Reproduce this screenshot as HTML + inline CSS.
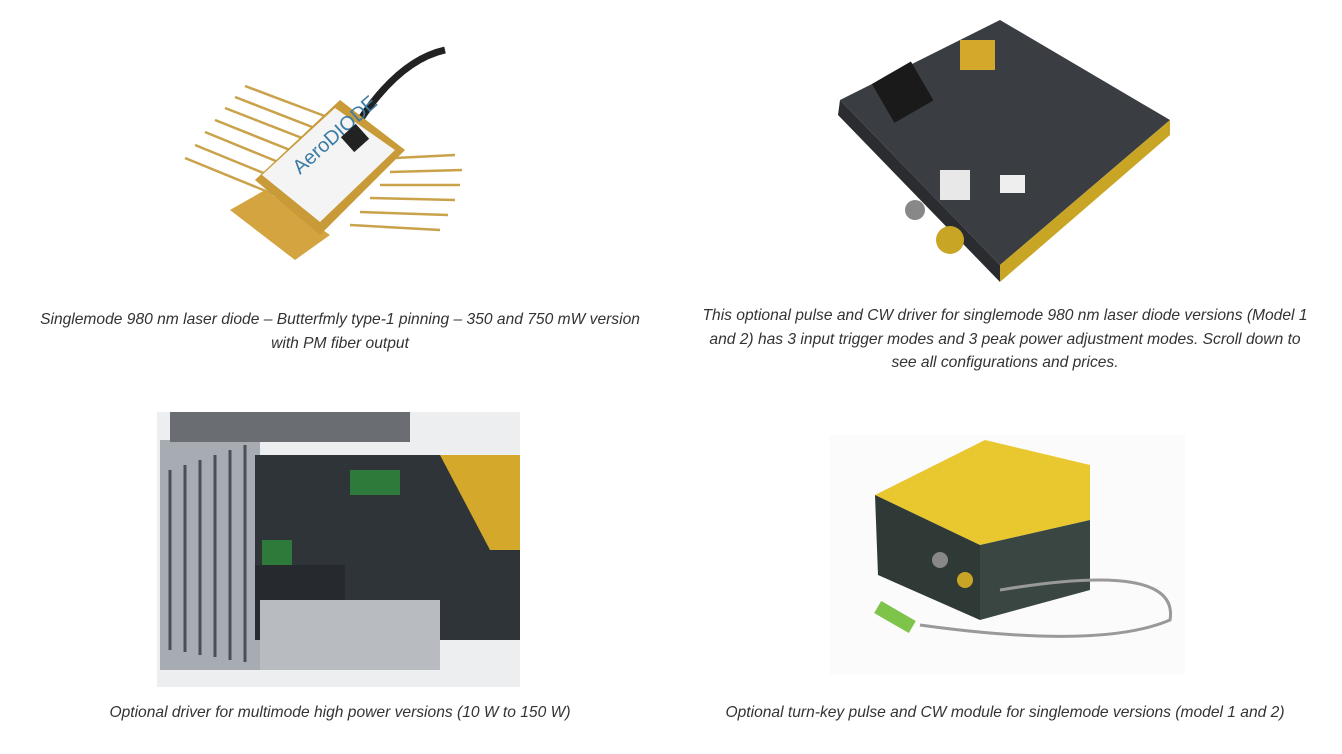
<!DOCTYPE html>
<html><head><meta charset="utf-8"><style>
html,body{margin:0;padding:0;background:#fff;width:1342px;height:754px;overflow:hidden;position:relative;font-family:"Liberation Sans",sans-serif}
.cap{position:absolute;font-style:italic;font-size:15.6px;color:#333;text-align:center;line-height:23.5px;white-space:nowrap}
svg{position:absolute;left:0;top:0}
</style></head><body>
<svg width="1342" height="754">
<path d="M360 120 Q400 60 445 50" stroke="#222" stroke-width="7" fill="none"/>
<g stroke="#c9a24a" stroke-width="2.5">
<line x1="185" y1="158" x2="300" y2="205"/><line x1="195" y1="145" x2="305" y2="190"/>
<line x1="205" y1="132" x2="310" y2="175"/><line x1="215" y1="120" x2="315" y2="160"/>
<line x1="225" y1="108" x2="320" y2="145"/><line x1="235" y1="97" x2="325" y2="132"/>
<line x1="245" y1="86" x2="330" y2="118"/>
<line x1="350" y1="225" x2="440" y2="230"/><line x1="360" y1="212" x2="448" y2="215"/>
<line x1="370" y1="198" x2="455" y2="200"/><line x1="380" y1="185" x2="460" y2="185"/>
<line x1="390" y1="172" x2="462" y2="170"/><line x1="395" y1="158" x2="455" y2="155"/>
</g>
<polygon points="230,210 295,260 330,235 265,190" fill="#d4a440"/>
<polygon points="255,180 320,235 405,150 340,100" fill="#c89a38"/>
<polygon points="262,175 320,222 395,150 335,108" fill="#f4f4f4"/>
<text x="300" y="175" font-size="20" fill="#3a7ca5" transform="rotate(-42 300 175)" font-family="Liberation Sans">AeroDIODE</text>
<rect x="345" y="128" width="20" height="20" fill="#222" transform="rotate(-42 355 138)"/>
<polygon points="840,100 1000,20 1170,120 1000,265" fill="#3a3d42"/>
<polygon points="840,100 1000,265 1000,282 838,115" fill="#2a2c30"/>
<polygon points="1000,265 1170,120 1170,135 1000,282" fill="#c9a526"/>
<rect x="880" y="70" width="45" height="45" fill="#1a1a1a" transform="rotate(-30 902 92)"/>
<rect x="960" y="40" width="35" height="30" fill="#d4a82a"/>
<rect x="940" y="170" width="30" height="30" fill="#e8e8e8"/>
<circle cx="950" cy="240" r="14" fill="#c9a526"/><circle cx="915" cy="210" r="10" fill="#888"/>
<rect x="1000" y="175" width="25" height="18" fill="#eee"/>
<rect x="157" y="412" width="363" height="275" fill="#eceef0"/>
<rect x="160" y="440" width="100" height="230" fill="#a7acb2"/>
<g stroke="#4a4f55" stroke-width="3">
<line x1="170" y1="470" x2="170" y2="650"/><line x1="185" y1="465" x2="185" y2="652"/>
<line x1="200" y1="460" x2="200" y2="655"/><line x1="215" y1="455" x2="215" y2="657"/>
<line x1="230" y1="450" x2="230" y2="660"/><line x1="245" y1="445" x2="245" y2="662"/></g>
<rect x="255" y="455" width="265" height="185" fill="#2f3438"/>
<polygon points="440,455 520,455 520,550 490,550" fill="#d4a82a"/>
<rect x="255" y="565" width="90" height="75" fill="#262a2e"/>
<rect x="260" y="600" width="180" height="70" fill="#b8bcc0"/>
<rect x="350" y="470" width="50" height="25" fill="#2d7a3a"/>
<rect x="262" y="540" width="30" height="25" fill="#2d7a3a"/>
<rect x="170" y="412" width="240" height="30" fill="#6a6e72"/>
<rect x="830" y="435" width="355" height="240" fill="#fbfbfb"/>
<polygon points="875,495 985,440 1090,465 1090,520 980,545" fill="#e8c82e"/>
<polygon points="875,495 980,545 980,620 878,575" fill="#2f3a36"/>
<polygon points="980,545 1090,520 1090,590 980,620" fill="#3a4642"/>
<circle cx="965" cy="580" r="8" fill="#c9a526"/><circle cx="940" cy="560" r="8" fill="#888"/>
<path d="M1000 590 Q1180 560 1170 620 Q1100 650 920 625" stroke="#999" stroke-width="3" fill="none"/>
<rect x="875" y="610" width="40" height="14" fill="#7ec44a" transform="rotate(30 895 617)"/>
</svg>
<div class="cap" style="left:20px;width:640px;top:308px">Singlemode 980 nm laser diode – Butterfmly type-1 pinning – 350 and 750 mW version<br>with PM fiber output</div>
<div class="cap" style="left:695px;width:620px;top:304px">This optional pulse and CW driver for singlemode 980 nm laser diode versions (Model 1<br>and 2) has 3 input trigger modes and 3 peak power adjustment modes. Scroll down to<br>see all configurations and prices.</div>
<div class="cap" style="left:20px;width:640px;top:701px">Optional driver for multimode high power versions (10 W to 150 W)</div>
<div class="cap" style="left:695px;width:620px;top:701px">Optional turn-key pulse and CW module for singlemode versions (model 1 and 2)</div>
</body></html>
